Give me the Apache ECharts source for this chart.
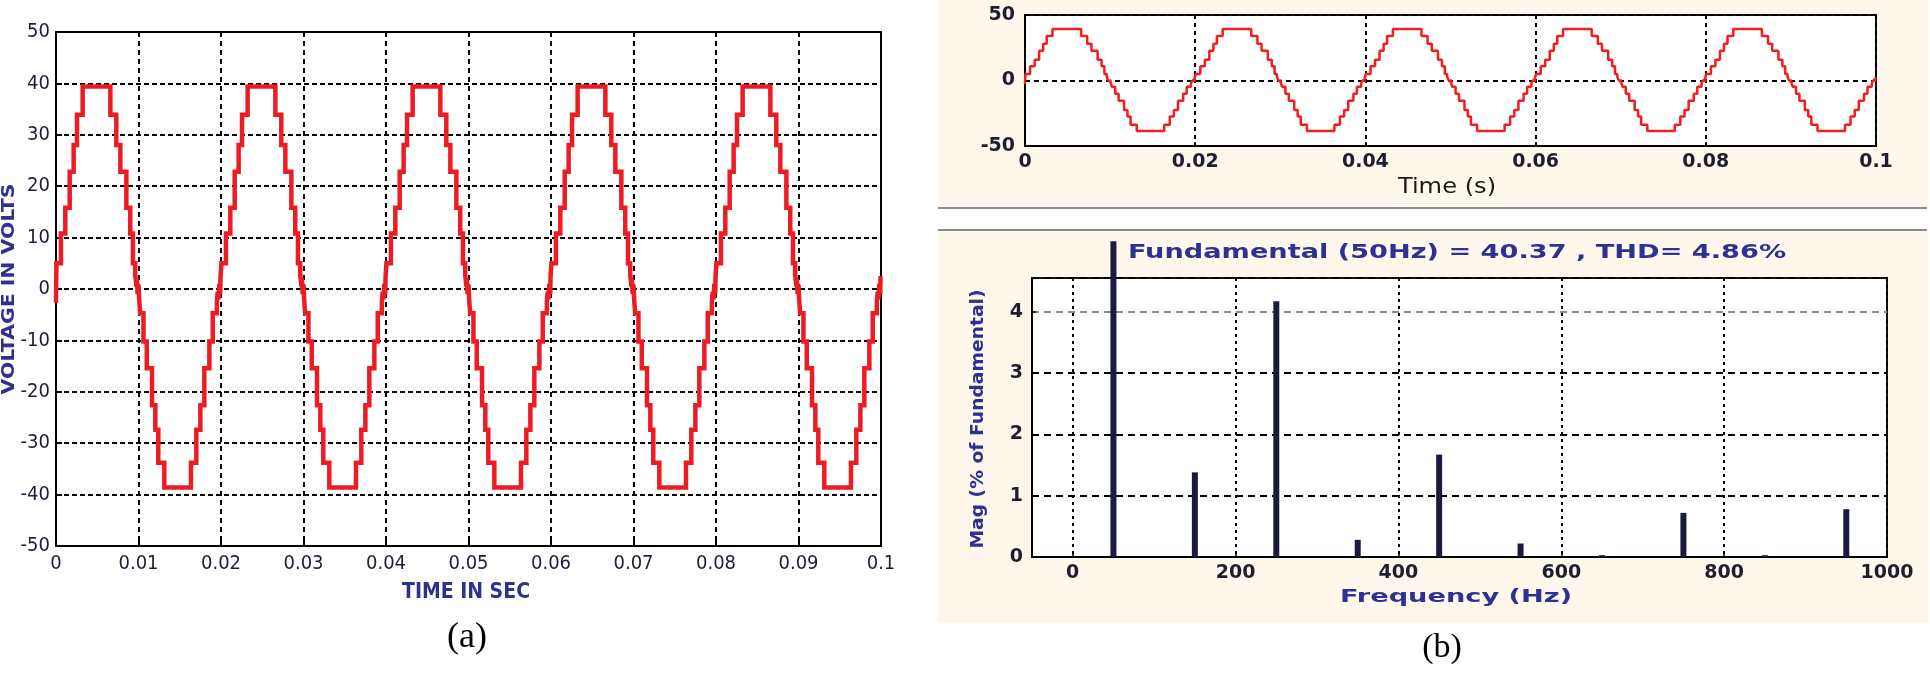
<!DOCTYPE html>
<html><head><meta charset="utf-8">
<script src="https://cdn.jsdelivr.net/npm/echarts@6/dist/echarts.min.js"></script>
<style>html,body{margin:0;padding:0;background:#fff}#c{width:1930px;height:673px}</style>
</head><body><div id="c"></div>
<script>
// Staircase output voltage, read as [time (s), volts] step points (value holds until next point)
const cycle1 = [[0,-2.7],[0.00005,5.0],[0.0006,10.8],[0.00113,15.8],[0.00166,22.8],[0.00214,28.0],[0.00255,33.9],[0.00323,39.4],[0.00659,33.9],[0.00731,28.0],[0.0078,22.8],[0.00853,15.8],[0.009,10.8],[0.00933,5.0],[0.0096,2.8],[0.00975,0.5],[0.0098,2.0],[0.0099,-1.0],[0.01,0.8],[0.0101,-2.5],[0.0102,-4.7],[0.0106,-10.2],[0.011,-15.4],[0.01164,-22.6],[0.01204,-27.4],[0.0124,-33.8],[0.01313,-38.6],[0.01636,-33.8],[0.01701,-27.4],[0.0175,-22.6],[0.01798,-15.4],[0.01859,-10.2],[0.019,-4.7],[0.0195,-2.5],[0.0196,-0.5],[0.0197,-2.0],[0.0198,1.0],[0.0199,-1.0],[0.01995,2.5]];
const cycle2 = [[0.02005,5.0],[0.0206,10.8],[0.02113,15.8],[0.02166,22.8],[0.02214,28.0],[0.02255,33.9],[0.02323,39.4],[0.02659,33.9],[0.02731,28.0],[0.0278,22.8],[0.02853,15.8],[0.029,10.8],[0.02933,5.0],[0.0296,2.8],[0.02975,0.5],[0.0298,2.0],[0.0299,-1.0],[0.03,0.8],[0.0301,-2.5],[0.0302,-4.7],[0.0306,-10.2],[0.031,-15.4],[0.03164,-22.6],[0.03204,-27.4],[0.0324,-33.8],[0.03313,-38.6],[0.03636,-33.8],[0.03701,-27.4],[0.0375,-22.6],[0.03798,-15.4],[0.03859,-10.2],[0.039,-4.7],[0.0395,-2.5],[0.0396,-0.5],[0.0397,-2.0],[0.0398,1.0],[0.0399,-1.0],[0.03995,2.5]];
const cycle3 = [[0.04005,5.0],[0.0406,10.8],[0.04113,15.8],[0.04166,22.8],[0.04214,28.0],[0.04255,33.9],[0.04323,39.4],[0.04659,33.9],[0.04731,28.0],[0.0478,22.8],[0.04853,15.8],[0.049,10.8],[0.04933,5.0],[0.0496,2.8],[0.04975,0.5],[0.0498,2.0],[0.0499,-1.0],[0.05,0.8],[0.0501,-2.5],[0.0502,-4.7],[0.0506,-10.2],[0.051,-15.4],[0.05164,-22.6],[0.05204,-27.4],[0.0524,-33.8],[0.05313,-38.6],[0.05636,-33.8],[0.05701,-27.4],[0.0575,-22.6],[0.05798,-15.4],[0.05859,-10.2],[0.059,-4.7],[0.0595,-2.5],[0.0596,-0.5],[0.0597,-2.0],[0.0598,1.0],[0.0599,-1.0],[0.05995,2.5]];
const cycle4 = [[0.06005,5.0],[0.0606,10.8],[0.06113,15.8],[0.06166,22.8],[0.06214,28.0],[0.06255,33.9],[0.06323,39.4],[0.06659,33.9],[0.06731,28.0],[0.0678,22.8],[0.06853,15.8],[0.069,10.8],[0.06933,5.0],[0.0696,2.8],[0.06975,0.5],[0.0698,2.0],[0.0699,-1.0],[0.07,0.8],[0.0701,-2.5],[0.0702,-4.7],[0.0706,-10.2],[0.071,-15.4],[0.07164,-22.6],[0.07204,-27.4],[0.0724,-33.8],[0.07313,-38.6],[0.07636,-33.8],[0.07701,-27.4],[0.0775,-22.6],[0.07798,-15.4],[0.07859,-10.2],[0.079,-4.7],[0.0795,-2.5],[0.0796,-0.5],[0.0797,-2.0],[0.0798,1.0],[0.0799,-1.0],[0.07995,2.5]];
const cycle5 = [[0.08005,5.0],[0.0806,10.8],[0.08113,15.8],[0.08166,22.8],[0.08214,28.0],[0.08255,33.9],[0.08323,39.4],[0.08659,33.9],[0.08731,28.0],[0.0878,22.8],[0.08853,15.8],[0.089,10.8],[0.08933,5.0],[0.0896,2.8],[0.08975,0.5],[0.0898,2.0],[0.0899,-1.0],[0.09,0.8],[0.0901,-2.5],[0.0902,-4.7],[0.0906,-10.2],[0.091,-15.4],[0.09164,-22.6],[0.09204,-27.4],[0.0924,-33.8],[0.09313,-38.6],[0.09636,-33.8],[0.09701,-27.4],[0.0975,-22.6],[0.09798,-15.4],[0.09859,-10.2],[0.099,-4.7],[0.0995,-2.5],[0.0996,-0.5],[0.0997,-2.0],[0.0998,1.0],[0.0999,-1.0],[0.09995,2.5],[0.1,2.5]];

// FFT spectrum (% of fundamental); the 50 Hz bar is drawn as far as it shows in the picture
const freqHz = [50,150,250,350,450,550,650,750,850,950];
const magPercent = [5.15,1.38,4.17,0.28,1.67,0.22,0.03,0.72,0.03,0.78];
const freqTicks = [0,200,400,600,800,1000];

const titleB = 'Fundamental (50Hz) = 40.37 , THD= 4.86%';

const waveform = [].concat(cycle1, cycle2, cycle3, cycle4, cycle5);
const spectrum = freqHz.map((f, i) => [f, magPercent[i]]);

const NARROW = "'Liberation Sans Narrow','Arial Narrow','DejaVu Sans Condensed',sans-serif";
const WIDE = "'DejaVu Sans',Verdana,sans-serif";
const BLUE = '#2e3192';

const chart = echarts.init(document.getElementById('c'), null, {renderer: 'canvas'});

function txt(text, x, y, font, fill, opts) {
  opts = opts || {};
  return {
    type: 'text', x: x, y: y, z: 100,
    rotation: opts.rotation || 0,
    scaleX: opts.scaleX || 1, scaleY: 1,
    style: {text: text, font: font, fill: fill,
      textAlign: 'center', textVerticalAlign: 'middle', align: 'center', verticalAlign: 'middle'}
  };
}
const plain = v => String(Math.round(v * 1000) / 1000);

chart.setOption({
  animation: false,
  backgroundColor: '#ffffff',
  graphic: {elements: [
    {type: 'rect', z: -10, shape: {x: 938, y: 0, width: 990, height: 206}, style: {fill: '#fdf7ec'}},
    {type: 'line', z: -9, shape: {x1: 938, y1: 208, x2: 1927, y2: 208}, style: {stroke: '#8c8c8c', lineWidth: 2}},
    {type: 'line', z: -9, shape: {x1: 938, y1: 230, x2: 1927, y2: 230}, style: {stroke: '#8c8c8c', lineWidth: 2}},
    {type: 'rect', z: -10, shape: {x: 938, y: 232, width: 990, height: 391}, style: {fill: '#fdf7ec'}},
    txt('VOLTAGE IN VOLTS', 10, 289, 'bold 17px ' + WIDE, BLUE, {rotation: Math.PI / 2, scaleX: 1.2}),
    txt('TIME IN SEC', 466, 593, 'bold 21px ' + NARROW, BLUE),
    txt('(a)', 467, 638, '36px "Liberation Serif","Times New Roman",serif', '#000'),
    txt('Time (s)', 1447, 188, '21px ' + WIDE, '#1a1a1a', {scaleX: 1.15}),
    txt(titleB, 1457, 253, 'bold 19px ' + WIDE, BLUE, {scaleX: 1.43}),
    txt('Mag (% of Fundamental)', 978, 419, 'bold 18px ' + WIDE, BLUE, {rotation: Math.PI / 2, scaleX: 1.04}),
    txt('Frequency (Hz)', 1456, 598, 'bold 17px ' + WIDE, BLUE, {scaleX: 1.6}),
    txt('(b)', 1442, 648, '34px "Liberation Serif","Times New Roman",serif', '#000')
  ]},
  grid: [
    {left: 56, top: 32, width: 825, height: 514, show: true, backgroundColor: '#fff', borderColor: '#000', borderWidth: 2},
    {left: 1025, top: 15, width: 851, height: 131, show: true, backgroundColor: '#fff', borderColor: '#111', borderWidth: 2},
    {left: 1032, top: 278, width: 855, height: 279, show: true, backgroundColor: '#fff', borderColor: '#111', borderWidth: 2}
  ],
  xAxis: [
    {type: 'value', gridIndex: 0, min: 0, max: 0.1, interval: 0.01,
      axisLine: {onZero: false, lineStyle: {color: '#000', width: 2}},
      axisTick: {inside: true, length: 6, lineStyle: {color: '#000', width: 2}},
      axisLabel: {fontFamily: NARROW, fontSize: 20, color: '#1e1e36', margin: 8, formatter: plain},
      splitLine: {show: true, lineStyle: {color: '#000', width: 2, type: [5, 4]}}},
    {type: 'value', gridIndex: 1, min: 0, max: 0.1, interval: 0.02,
      axisLine: {onZero: false, lineStyle: {color: '#000', width: 2}},
      axisTick: {inside: true, length: 4, lineStyle: {color: '#000', width: 1.5}},
      axisLabel: {fontFamily: WIDE, fontWeight: 'bold', fontSize: 19, color: '#1e1e30', margin: 7, formatter: plain},
      splitLine: {show: true, lineStyle: {color: '#000', width: 2, type: [4, 4]}}},
    {type: 'value', gridIndex: 2, min: -50, max: 1000,
      axisLine: {onZero: false, lineStyle: {color: '#000', width: 2}},
      axisTick: {inside: true, length: 4, customValues: freqTicks, lineStyle: {color: '#000', width: 1.5}},
      axisLabel: {customValues: freqTicks, fontFamily: WIDE, fontWeight: 'bold', fontSize: 19, color: '#1e1e30', margin: 7, formatter: plain},
      splitLine: {show: true, lineStyle: {color: '#000', width: 2, type: [3, 4]}}}
  ],
  yAxis: [
    {type: 'value', gridIndex: 0, min: -50, max: 50, interval: 10,
      axisLine: {onZero: false, lineStyle: {color: '#000', width: 2}},
      axisTick: {inside: true, length: 6, lineStyle: {color: '#000', width: 2}},
      axisLabel: {fontFamily: NARROW, fontSize: 20, color: '#1e1e36', margin: 6},
      splitLine: {show: true, lineStyle: {color: '#000', width: 2, type: [5, 3]}}},
    {type: 'value', gridIndex: 1, min: -50, max: 50, interval: 50,
      axisLine: {onZero: false, lineStyle: {color: '#000', width: 2}},
      axisTick: {inside: true, length: 4, lineStyle: {color: '#000', width: 1.5}},
      axisLabel: {fontFamily: WIDE, fontWeight: 'bold', fontSize: 19, color: '#1e1e30', margin: 10},
      splitLine: {show: true, lineStyle: {color: '#000', width: 2, type: [5, 4]}}},
    {type: 'value', gridIndex: 2, min: 0, max: 4.55, interval: 1,
      axisLine: {onZero: false, lineStyle: {color: '#000', width: 2}},
      axisTick: {inside: true, length: 4, lineStyle: {color: '#000', width: 1.5}},
      axisLabel: {fontFamily: WIDE, fontWeight: 'bold', fontSize: 19, color: '#1e1e30', margin: 9, showMaxLabel: false},
      splitLine: {show: true, lineStyle: {color: ['#444', '#000', '#000', '#000', '#8a8a8a', '#000'], width: 2, type: [7, 5]}}}
  ],
  series: [
    {type: 'line', xAxisIndex: 0, yAxisIndex: 0, data: waveform, step: 'end', showSymbol: false,
      lineStyle: {color: '#ec1c24', width: 4.5, join: 'miter'}, z: 5},
    {type: 'line', xAxisIndex: 1, yAxisIndex: 1, data: waveform, step: 'end', showSymbol: false,
      lineStyle: {color: '#f01e1e', width: 2.5}, z: 5},
    {type: 'bar', xAxisIndex: 2, yAxisIndex: 2, data: spectrum, barWidth: 6, clip: false,
      itemStyle: {color: '#1b1b40'}, z: 5}
  ]
});
</script></body></html>
